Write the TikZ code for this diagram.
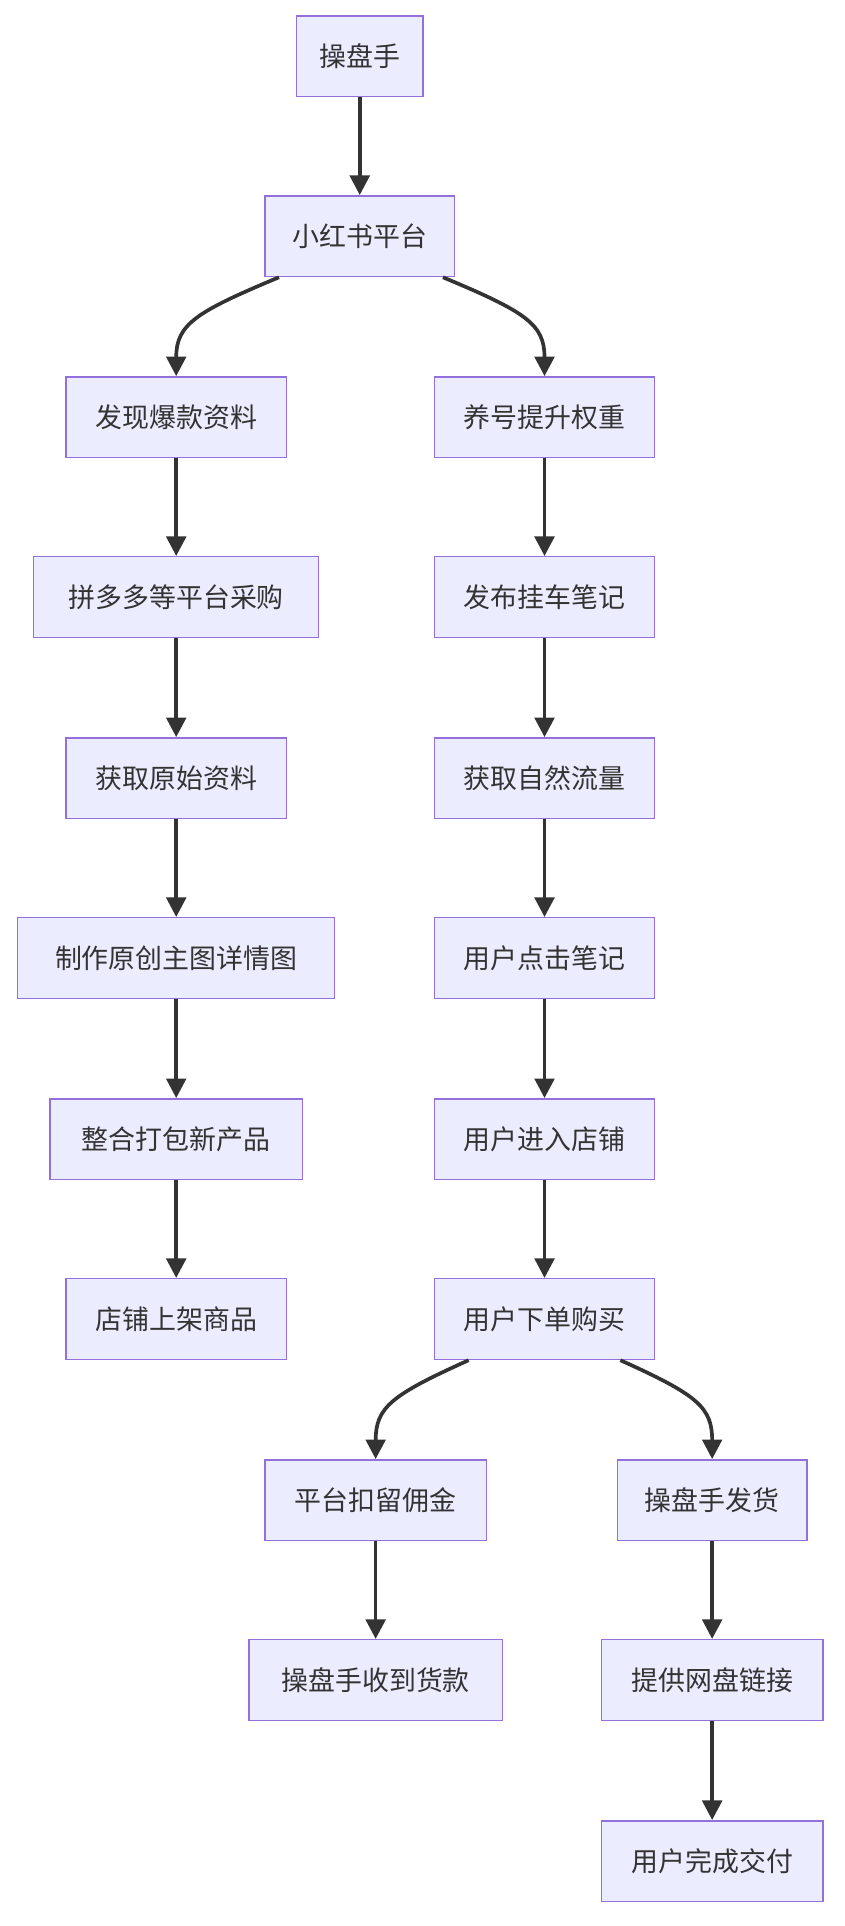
\documentclass[tikz,border=0pt]{standalone}
\usepackage{fontspec}
\newfontfamily\cjk{Noto Sans CJK SC}
\usetikzlibrary{arrows.meta}
\begin{document}
\begin{tikzpicture}[x=1pt,y=-1pt,
 box/.style={draw=#1!0!black, rectangle, fill=boxfill, draw=boxline, line width=1.2pt, minimum height=66pt, inner sep=0pt, font=\cjk\fontsize{22}{26}\selectfont, text=textc},
 arr/.style={draw=linec, line width=3pt, -{Triangle[length=16pt,width=16pt]}}]
\definecolor{boxfill}{HTML}{ECECFF}
\definecolor{boxline}{HTML}{9370DB}
\definecolor{linec}{HTML}{333333}
\definecolor{textc}{HTML}{333333}
\useasboundingbox[fill=white] (0,0) rectangle (690,1574);
\tikzset{box/.style={rectangle, fill=boxfill, draw=boxline, line width=1.2pt, minimum height=66pt, inner sep=0pt, font=\cjk\fontsize{22}{26}\selectfont, text=textc}}
\node[box,minimum width=103] (a) at (294,46) {操盘手};
\node[box,minimum width=155] (b) at (294,193) {小红书平台};
\node[box,minimum width=180] (l1) at (144,341) {发现爆款资料};
\node[box,minimum width=233] (l2) at (144,488) {拼多多等平台采购};
\node[box,minimum width=180] (l3) at (144,636) {获取原始资料};
\node[box,minimum width=259] (l4) at (144,783) {制作原创主图详情图};
\node[box,minimum width=206] (l5) at (144,931) {整合打包新产品};
\node[box,minimum width=180] (l6) at (144,1078) {店铺上架商品};
\node[box,minimum width=180] (r1) at (445,341) {养号提升权重};
\node[box,minimum width=180] (r2) at (445,488) {发布挂车笔记};
\node[box,minimum width=180] (r3) at (445,636) {获取自然流量};
\node[box,minimum width=180] (r4) at (445,783) {用户点击笔记};
\node[box,minimum width=180] (r5) at (445,931) {用户进入店铺};
\node[box,minimum width=180] (r6) at (445,1078) {用户下单购买};
\node[box,minimum width=181] (p1) at (307,1226) {平台扣留佣金};
\node[box,minimum width=207] (p2) at (307,1373) {操盘手收到货款};
\node[box,minimum width=155] (s1) at (582,1226) {操盘手发货};
\node[box,minimum width=181] (s2) at (582,1373) {提供网盘链接};
\node[box,minimum width=181] (s3) at (582,1521) {用户完成交付};
\draw[arr] (a) -- (b);
\draw[arr] ([xshift=-66pt]b.south) .. controls (160,255) and (144,265) .. (l1.north);
\draw[arr] ([xshift=68pt]b.south) .. controls (430,255) and (445,265) .. (r1.north);
\draw[arr] (l1) -- (l2); \draw[arr] (l2) -- (l3); \draw[arr] (l3) -- (l4); \draw[arr] (l4) -- (l5); \draw[arr] (l5) -- (l6);
\draw[arr] (r1) -- (r2); \draw[arr] (r2) -- (r3); \draw[arr] (r3) -- (r4); \draw[arr] (r4) -- (r5); \draw[arr] (r5) -- (r6);
\draw[arr] ([xshift=-62pt]r6.south) .. controls (320,1140) and (307,1150) .. (p1.north);
\draw[arr] ([xshift=62pt]r6.south) .. controls (570,1140) and (582,1150) .. (s1.north);
\draw[arr] (p1) -- (p2);
\draw[arr] (s1) -- (s2); \draw[arr] (s2) -- (s3);
\end{tikzpicture}
\end{document}
